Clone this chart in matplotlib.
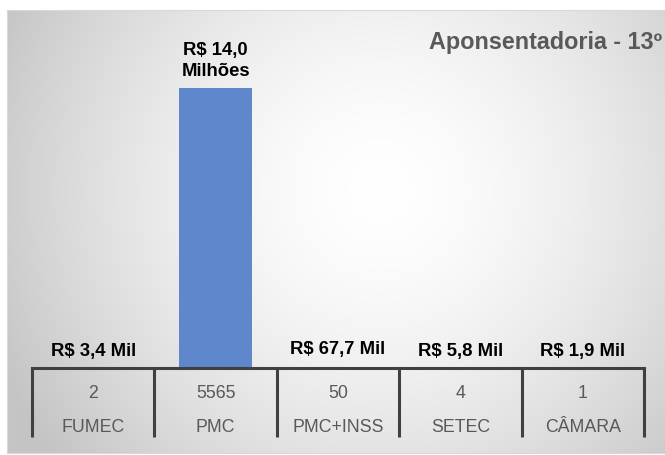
import numpy as np
import matplotlib
matplotlib.use("Agg")
import matplotlib.pyplot as plt
import matplotlib.transforms as mtransforms

categories = ["FUMEC", "PMC", "PMC+INSS", "SETEC", "CÂMARA"]
counts = ["2", "5565", "50", "4", "1"]
values = [3400, 14000000, 67700, 5800, 1900]
value_labels = ["R$ 3,4 Mil", "R$ 14,0\nMilhões", "R$ 67,7 Mil", "R$ 5,8 Mil", "R$ 1,9 Mil"]
title = "Aponsentadoria - 13º"

W, H = 665, 455
fig = plt.figure(figsize=(W / 100, H / 100), dpi=100)
fig.patch.set_facecolor("white")
plt.rcParams["font.family"] = ["Liberation Sans", "DejaVu Sans"]

# background frame with radial gradient
fx0, fy0, fx1, fy1 = 7, 10, 665, 453
bg = fig.add_axes([fx0 / W, 1 - fy1 / H, (fx1 - fx0) / W, (fy1 - fy0) / H])
nx, ny = fx1 - fx0, fy1 - fy0
xx, yy = np.meshgrid(np.arange(nx) + fx0, np.arange(ny) + fy0)
cx, cy = 380, 190
d = np.sqrt((xx - cx) ** 2 + (yy - cy) ** 2) / 420.0
d = np.clip(d, 0, 1)
g = 1.0 - (1.0 - 0.77) * d ** 1.6
img = np.dstack([g, g, g])
bg.imshow(img, aspect="auto", extent=[0, 1, 0, 1], origin="upper")
bg.set_xlim(0, 1)
bg.set_ylim(0, 1)
bg.set_xticks([])
bg.set_yticks([])
for s in bg.spines.values():
    s.set_color("#d9d9d9")
    s.set_linewidth(0.8)

# main axes
axL, axR = 32, 644
axBot, axTop = 368, 10
ax = fig.add_axes([axL / W, 1 - axBot / H, (axR - axL) / W, (axBot - axTop) / H])
ax.patch.set_alpha(0)
x = np.arange(len(categories))
ax.bar(x, values, width=0.6, color="#5f87cc", edgecolor="none", zorder=2)
ax.set_xlim(-0.5, len(categories) - 0.5)
ymax = 14000000 / ((axBot - 88) / (axBot - axTop))
ax.set_ylim(0, ymax)
ax.set_xticks([])
ax.set_yticks([])
for k in ["top", "right", "left"]:
    ax.spines[k].set_visible(False)
ax.spines["bottom"].set_color("#404040")
ax.spines["bottom"].set_linewidth(2.2)

for i, (v, lab) in enumerate(zip(values, value_labels)):
    ax.annotate(lab, (i, v), xytext=(0, 6), textcoords="offset points",
                ha="center", va="bottom", fontsize=13.3, fontweight="bold",
                color="black", linespacing=1.25)

trans = mtransforms.blended_transform_factory(ax.transData, ax.transAxes)
hpx = axBot - axTop
for i, (c, n) in enumerate(zip(counts, categories)):
    ax.text(i, -(393 - axBot) / hpx, c, transform=trans, ha="center", va="center",
            fontsize=12.8, color="#595959")
    ax.text(i, -(428 - axBot) / hpx, n, transform=trans, ha="center", va="center",
            fontsize=12.8, color="#595959")
for b in np.arange(-0.5, len(categories), 1.0):
    ax.plot([b, b], [0, -(437 - axBot) / hpx], transform=trans, color="#404040",
            lw=2.2, clip_on=False, solid_capstyle="butt")

fig.text(662 / W, 1 - 42 / H, title, ha="right", va="center", fontsize=16.8,
         fontweight="bold", color="#595959")

fig.savefig("out.png", dpi=100)
